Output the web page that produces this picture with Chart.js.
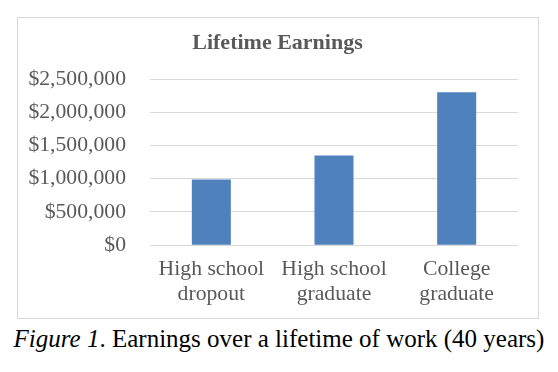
<!DOCTYPE html>
<html>
<head>
<meta charset="utf-8">
<script src="https://cdn.jsdelivr.net/npm/chart.js@4"></script>
<style>
  body { margin: 0; background: #fff; }
  #wrap { position: relative; width: 558px; height: 372px; }
  #frame { position: absolute; left: 17px; top: 17px; width: 520px; height: 300px; border: 1px solid #d9d9d9; }
  #chart { position: absolute; left: 0; top: 0; }
  #caption {
    position: absolute; left: 0; top: 325px; width: 558px; text-align: center;
    font-family: "Liberation Serif", serif; font-size: 25px; color: #000; white-space: nowrap;
  }
</style>
</head>
<body>
<div id="wrap">
  <div id="frame"></div>
  <canvas id="chart" width="558" height="318"></canvas>
  <div id="caption"><i>Figure 1</i>. Earnings over a lifetime of work (40 years)</div>
</div>
<script>
// ======= DADOS =======
const categorias = [["High school", "dropout"], ["High school", "graduate"], ["College", "graduate"]];
const ganhos = [990000, 1350000, 2300000];
const tituloGrafico = "Lifetime Earnings";
const eixoMin = 0;
const eixoMax = 2500000;
const passo = 500000;

const cinza = "#595959";
const serif = "'Liberation Serif', 'Times New Roman', serif";

// título centrado na moldura (o plugin padrão centra só na área sem padding)
const tituloCentrado = {
  id: "tituloCentrado",
  afterDraw(chart) {
    const c = chart.ctx;
    c.save();
    c.font = "bold 22px " + serif;
    c.fillStyle = cinza;
    c.textAlign = "center";
    c.textBaseline = "middle";
    c.fillText(tituloGrafico, 277.5, 43);
    c.restore();
  }
};

// ======= GRÁFICO DE BARRAS =======
const ctx = document.getElementById("chart").getContext("2d");
new Chart(ctx, {
  type: "bar",
  data: {
    labels: categorias,
    datasets: [{
      data: ganhos,
      backgroundColor: "#4f81bd",
      barPercentage: 0.318,
      categoryPercentage: 1
    }]
  },
  options: {
    responsive: false,
    animation: false,
    layout: { padding: { left: 0, right: 40, top: 79, bottom: 0 } },
    plugins: {
      legend: { display: false },
      tooltip: { enabled: false },
      title: { display: false }
    },
    scales: {
      x: {
        grid: { display: false, drawTicks: false },
        border: { display: false },
        ticks: {
          color: cinza,
          padding: 11,
          maxRotation: 0,
          font: { family: serif, size: 21.7, lineHeight: 1.17 }
        }
      },
      y: {
        min: eixoMin,
        max: eixoMax,
        afterFit: s => { s.width = 150; },
        grid: { color: "#d9d9d9", drawTicks: false },
        border: { display: false },
        ticks: {
          stepSize: passo,
          color: cinza,
          padding: 24,
          font: { family: serif, size: 21.7 },
          callback: v => "$" + v.toLocaleString("en-US")
        }
      }
    }
  },
  plugins: [tituloCentrado]
});
</script>
</body>
</html>
